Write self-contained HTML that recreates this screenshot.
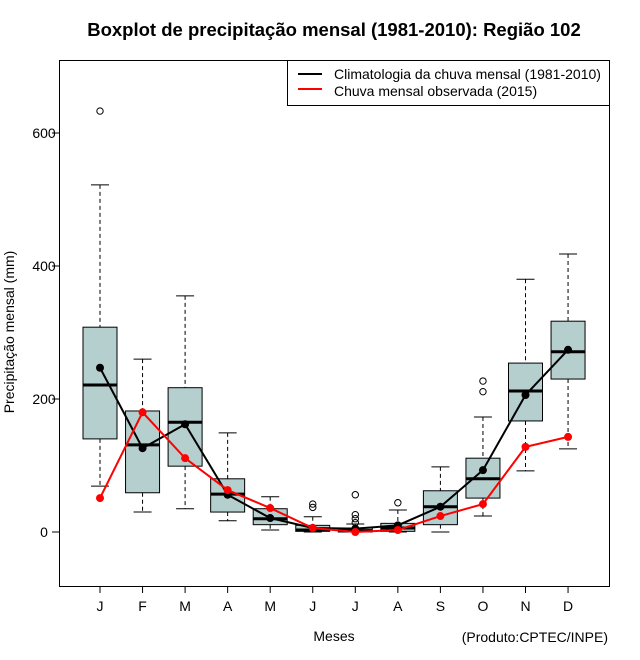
<!DOCTYPE html>
<html><head><meta charset="utf-8"><style>
body{margin:0;background:#fff}
svg{display:block;font-family:"Liberation Sans",sans-serif}
</style></head><body>
<svg id="c" width="640" height="660" xmlns="http://www.w3.org/2000/svg">
<rect x="0" y="0" width="640" height="660" fill="#fff"/>
<text x="334" y="36" text-anchor="middle" font-size="18.5" font-weight="bold">Boxplot de precipitação mensal (1981-2010): Região 102</text>
<rect x="59.5" y="60.5" width="550" height="526" fill="none" stroke="#000"/>
<g id="yaxis"></g>
<g id="xaxis"></g>
<g id="boxes"></g>
<g id="lines"></g>
<text x="0" y="0" transform="translate(14,332) rotate(-90)" text-anchor="middle" font-size="14">Precipitação mensal (mm)</text>
<text x="334" y="641" text-anchor="middle" font-size="14">Meses</text>
<text x="608" y="642" text-anchor="end" font-size="14">(Produto:CPTEC/INPE)</text>
<g>
<rect x="287.5" y="60.5" width="322" height="45" fill="#fff" stroke="#000"/>
<line x1="298" y1="74" x2="322" y2="74" stroke="#000" stroke-width="2"/>
<text x="334" y="79" font-size="14">Climatologia da chuva mensal (1981-2010)</text>
<line x1="298" y1="89" x2="322" y2="89" stroke="#f00" stroke-width="2"/>
<text x="334" y="96" font-size="14">Chuva mensal observada (2015)</text>
</g>
</svg>
<script>
const months=["J","F","M","A","M","J","J","A","S","O","N","D"];
const whiskerHigh=[522,260,355,149,53,23,12,33,98,173,380,418];
const q3=[308,182,217,80,35,10,6,13,62,111,254,317];
const median=[221,131,165,57,20,3,2,6,38,80,212,271];
const q1=[140,59,99,30,11,1,0,1,11,51,167,230];
const whiskerLow=[69,30,35,17,3,0,0,0,0,24,92,125];
const outliers=[[633],[],[],[],[],[42,37],[56,26,20,14],[44],[],[227,211],[],[]];
const climMean=[247,126,162,56,21,6,5,10,38,93,206,274];
const observed=[51,180,111,63,36,6,0,3,24,42,128,143];
const yTicks=[0,200,400,600];
const NS="http://www.w3.org/2000/svg";
function y(v){return 532-v*0.665;}
function x(i){return 100+i*42.55;}
function mk(p,t,a){const e=document.createElementNS(NS,t);for(const k in a)e.setAttribute(k,a[k]);p.appendChild(e);return e;}
const ya=document.getElementById('yaxis');
yTicks.forEach(t=>{
 const l=mk(ya,'line',{x1:52,x2:59,y1:y(t),y2:y(t),stroke:'#000'});
 
 
 const tx=mk(ya,'text',{x:44,y:y(t)+5,'text-anchor':'middle','font-size':14});
 tx.textContent=t;
 
 
});
const xa=document.getElementById('xaxis');
months.forEach((m,i)=>{
 const l=mk(xa,'line',{x1:x(i),x2:x(i),y1:586,y2:593,stroke:'#000'});
 
 
 const tx=mk(xa,'text',{x:x(i),y:611,'text-anchor':'middle','font-size':14});
 tx.textContent=m;
 
 
});
const bx=document.getElementById('boxes');
months.forEach((m,i)=>{
 const g=mk(bx,'g',{});
 
 
 const cx=x(i);
 mk(g,'line',{x1:cx,x2:cx,y1:y(whiskerHigh[i]),y2:y(q3[i]),stroke:'#000','stroke-dasharray':'4,3'});
 mk(g,'line',{x1:cx,x2:cx,y1:y(q1[i]),y2:y(whiskerLow[i]),stroke:'#000','stroke-dasharray':'4,3'});
 mk(g,'line',{x1:cx-9,x2:cx+9,y1:y(whiskerHigh[i]),y2:y(whiskerHigh[i]),stroke:'#000'});
 mk(g,'line',{x1:cx-9,x2:cx+9,y1:y(whiskerLow[i]),y2:y(whiskerLow[i]),stroke:'#000'});
 mk(g,'rect',{x:cx-17,y:y(q3[i]),width:34,height:Math.max(1,y(q1[i])-y(q3[i])),fill:'#b5cece',stroke:'#000'});
 mk(g,'line',{x1:cx-17,x2:cx+17,y1:y(median[i]),y2:y(median[i]),stroke:'#000','stroke-width':3});
 outliers[i].forEach(o=>{
  const c=mk(g,'circle',{cx:cx,cy:y(o),r:3.2,fill:'none',stroke:'#000'});
  
  
 });
});
const ln=document.getElementById('lines');
function series(vals,col,name){
 const p=mk(ln,'polyline',{points:vals.map((v,i)=>x(i)+','+y(v)).join(' '),fill:'none',stroke:col,'stroke-width':2});
 
 
 vals.forEach((v,i)=>{
  const c=mk(ln,'circle',{cx:x(i),cy:y(v),r:4,fill:col});
  
  
 });
}
series(climMean,'#000','climatology');
series(observed,'#f00','observed');
</script>
</body></html>
